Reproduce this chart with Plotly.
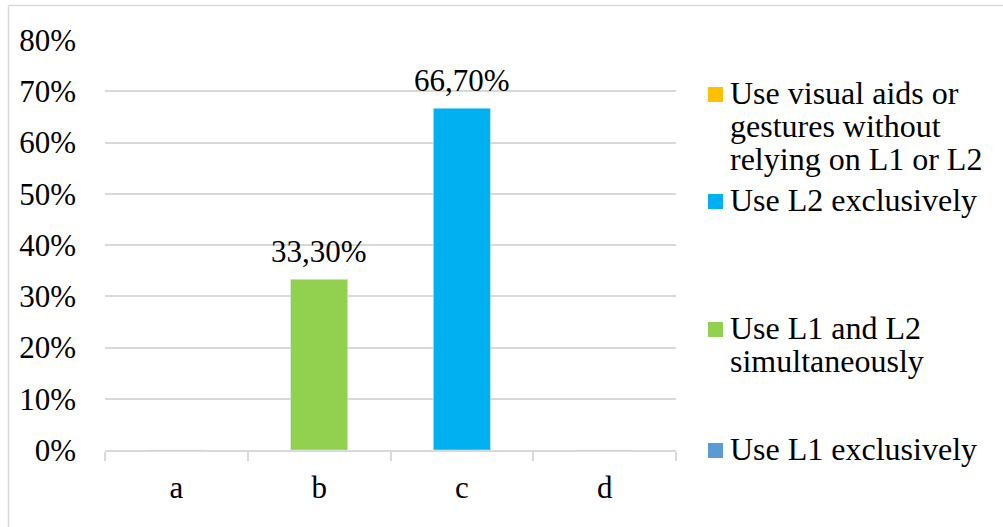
import plotly.graph_objects as go

# Categories and per-series values (percent); None where a series has no bar
categories = ["a", "b", "c", "d"]
series_names = [
    "Use L1 exclusively",
    "Use L1 and L2 simultaneously",
    "Use L2 exclusively",
    "Use visual aids or gestures without relying on L1 or L2",
]
# Legend wrapping of each series name
legend_lines = [
    ["Use L1 exclusively"],
    ["Use L1 and L2", "simultaneously"],
    ["Use L2 exclusively"],
    ["Use visual aids or", "gestures without", "relying on L1 or L2"],
]
series_values = [
    [0, None, None, None],
    [None, 33.3, None, None],
    [None, None, 66.7, None],
    [None, None, None, 0],
]
series_colors = ["#5B9BD5", "#92D050", "#00B0F0", "#FFC000"]
y_ticks = [0, 10, 20, 30, 40, 50, 60, 70, 80]
y_tick_labels = [f"{v}%" for v in y_ticks]

W, H = 1003, 527
L, R, T, B = 105, 327, 40, 77
PW, PH = W - L - R, H - T - B

def px_x(p):
    return (p - L) / PW

def px_y(p):
    return (H - B - p) / PH

FONT = "Liberation Serif, Times New Roman, serif"
GRID = "#D9D9D9"

def pct_label(v):
    return f"{v:.2f}".replace(".", ",") + "%"

fig = go.Figure()
annotations = []
for name, vals, col in zip(series_names, series_values, series_colors):
    fig.add_trace(go.Bar(
        x=categories, y=vals, name=name, marker_color=col, width=0.4,
        showlegend=False, hoverinfo="x+y+name",
    ))
    # value labels above non-empty bars
    for cat, v in zip(categories, vals):
        if v:
            annotations.append(dict(
                x=cat, y=v, xref="x", yref="y", text=pct_label(v),
                showarrow=False, yanchor="bottom", yshift=8,
                font=dict(family=FONT, size=31, color="#000000")))

# Legend drawn at the right, entries spread down the plot height (top to bottom)
square_tops = [443, 322, 194, 87]
line_gap = 33
shapes = []
for lines, col, top in zip(legend_lines, series_colors, square_tops):
    shapes.append(dict(type="rect", xref="paper", yref="paper",
                       x0=px_x(708), x1=px_x(723), y0=px_y(top + 15), y1=px_y(top),
                       fillcolor=col, line=dict(width=0)))
    for i, ln in enumerate(lines):
        base = top + 17 + i * line_gap
        annotations.append(dict(text=ln, xref="paper", yref="paper",
                                x=px_x(728), y=px_y(base - 11), xanchor="left", yanchor="middle",
                                showarrow=False,
                                font=dict(family=FONT, size=32, color="#000000")))

# Chart frame (top and left edges)
shapes.append(dict(type="line", xref="paper", yref="paper",
                   x0=px_x(8.5), x1=px_x(1010), y0=px_y(5.5), y1=px_y(5.5),
                   line=dict(color=GRID, width=1.5)))
shapes.append(dict(type="line", xref="paper", yref="paper",
                   x0=px_x(8.5), x1=px_x(8.5), y0=px_y(5.5), y1=px_y(540),
                   line=dict(color=GRID, width=1.5)))

fig.update_layout(
    width=W, height=H,
    margin=dict(l=L, r=R, t=T, b=B),
    paper_bgcolor="white", plot_bgcolor="white",
    barmode="overlay",
    font=dict(family=FONT, size=31, color="#000000"),
    shapes=shapes, annotations=annotations,
    showlegend=False,
)
fig.update_xaxes(
    type="category", categoryorder="array", categoryarray=categories,
    showline=True, linecolor=GRID, linewidth=1.5,
    ticks="outside", tickson="boundaries", ticklen=9, tickcolor=GRID, tickwidth=1.5,
    showgrid=False, tickfont=dict(family=FONT, size=31, color="#000000"),
    ticklabelstandoff=9,
)
fig.update_yaxes(
    range=[0, 80], tickmode="array", tickvals=y_ticks, ticktext=y_tick_labels,
    showgrid=True, gridcolor=GRID, gridwidth=1.5,
    zeroline=False, showline=False, ticks="",
    tickfont=dict(family=FONT, size=31, color="#000000"),
    ticklabelstandoff=28,
)

fig.write_html("out.html")
